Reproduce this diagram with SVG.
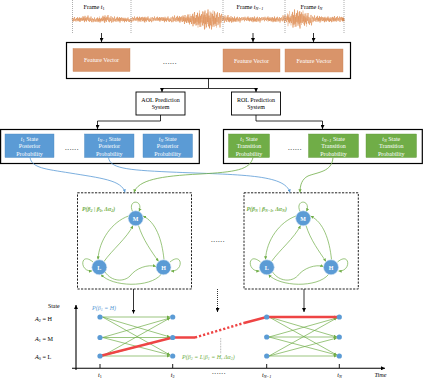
<svg xmlns="http://www.w3.org/2000/svg" width="423" height="382" viewBox="0 0 423 382">
<style>
.t{font-family:"Liberation Serif","Times New Roman",serif;}
.box{stroke:#000;stroke-width:1.2;fill:none;}
.dash{stroke:#222;stroke-width:1;fill:none;stroke-dasharray:2.2,1.3;}
.fv{fill:#D9946A;stroke:#C98358;stroke-width:0.4;}
.bl{fill:#5B9BD5;stroke:#4A86BD;stroke-width:0.4;}
.gr{fill:#70AD47;stroke:#5E9638;stroke-width:0.4;}
.wt{fill:#fff;font-size:6px;text-anchor:middle;}
.dots{font-size:7px;text-anchor:middle;letter-spacing:0.6px;fill:#000;}
.ge{fill:none;stroke:#70AD47;stroke-width:0.7;marker-end:url(#ag);}
.wave{fill:none;stroke:#DF8F55;stroke-width:0.6;}
.node{fill:#5B9BD5;stroke:#cfe0f2;stroke-width:0.6;}
.nl{fill:#fff;font-size:6px;font-weight:bold;text-anchor:middle;}
.pt{fill:#5B9BD5;}
</style>
<defs>
<marker id="ab" viewBox="0 0 10 10" refX="10" refY="5" markerWidth="4" markerHeight="4" markerUnits="userSpaceOnUse" orient="auto"><path d="M0,0 L10,5 L0,10z" fill="#000"/></marker>
<marker id="ag" viewBox="0 0 10 10" refX="10" refY="5" markerWidth="3.2" markerHeight="3.2" markerUnits="userSpaceOnUse" orient="auto"><path d="M0,0 L10,5 L0,10z" fill="#70AD47"/></marker>
<marker id="abl" viewBox="0 0 10 10" refX="10" refY="5" markerWidth="3.2" markerHeight="3.2" markerUnits="userSpaceOnUse" orient="auto"><path d="M0,0 L10,5 L0,10z" fill="#5B9BD5"/></marker>
<path id="wa" vector-effect="non-scaling-stroke" d="M0,0 L.5,-.7 L1,.9 L1.5,-.4 L2,.6 L2.5,-1 L3,.5 L3.5,-.2 L4,.8 L4.5,-.6 L5,.3 L5.5,-.9 L6,.7 L6.5,-.3 L7,.5 L7.5,-.8 L8,1 L8.5,-.5 L9,.4 L9.5,-.7 L10,0"/>
<path id="wb" vector-effect="non-scaling-stroke" d="M0,0 L.5,.5 L1,-.8 L1.5,.3 L2,-.5 L2.5,.9 L3,-.9 L3.5,.4 L4,-.3 L4.5,.7 L5,-.6 L5.5,.2 L6,-1 L6.5,.6 L7,-.4 L7.5,.8 L8,-.2 L8.5,.5 L9,-.7 L9.5,.9 L10,0"/>
</defs>
<rect width="423" height="382" fill="#fff"/>

<!-- waveform -->
<g id="waveform" class="wave">
<use href="#wa" transform="translate(72,19.5) scale(1,2.5)"/>
<use href="#wb" transform="translate(82,19) scale(1,3.5)"/>
<use href="#wa" transform="translate(92,20) scale(1,2.5)"/>
<use href="#wb" transform="translate(102,19) scale(1,4)"/>
<use href="#wa" transform="translate(112,19.5) scale(1,3)"/>
<use href="#wb" transform="translate(122,20) scale(1,2.5)"/>
<use href="#wa" transform="translate(132,19) scale(1,2.5)"/>
<use href="#wb" transform="translate(142,19.5) scale(1,3)"/>
<use href="#wa" transform="translate(152,19) scale(1,2.5)"/>
<use href="#wb" transform="translate(162,19.5) scale(1,3)"/>
<use href="#wa" transform="translate(172,19) scale(1,3.5)"/>
<use href="#wb" transform="translate(182,19.5) scale(1,5)"/>
<use href="#wa" transform="translate(192,19.5) scale(1,7.5)"/>
<use href="#wb" transform="translate(202,20) scale(1,10.5)"/>
<use href="#wa" transform="translate(212,19.5) scale(1,8)"/>
<use href="#wb" transform="translate(222,19) scale(1,4)"/>
<use href="#wa" transform="translate(232,19.5) scale(1,3)"/>
<use href="#wb" transform="translate(242,19) scale(1,2.5)"/>
<use href="#wa" transform="translate(252,19.5) scale(1,3)"/>
<use href="#wb" transform="translate(262,19) scale(1,2.5)"/>
<use href="#wa" transform="translate(272,19.5) scale(1,3)"/>
<use href="#wb" transform="translate(282,19) scale(1,4.5)"/>
<use href="#wa" transform="translate(292,19) scale(1,9.5)"/>
<use href="#wb" transform="translate(302,19.5) scale(1,6.5)"/>
<use href="#wa" transform="translate(312,19) scale(1,3.5)"/>
<use href="#wb" transform="translate(322,19.5) scale(1,3)"/>
<use href="#wa" transform="translate(332,19) scale(1,3)"/>
<use href="#wb" transform="translate(342,19.5) scale(0.2,2)"/>
<g opacity="0.55">
<use href="#wb" transform="translate(77,19.5) scale(1,2)"/>
<use href="#wa" transform="translate(97,19.5) scale(1,3)"/>
<use href="#wb" transform="translate(117,19.5) scale(1,2)"/>
<use href="#wa" transform="translate(137,19.5) scale(1,3)"/>
<use href="#wb" transform="translate(157,19.5) scale(1,2)"/>
<use href="#wb" transform="translate(177,19.5) scale(1,3)"/>
<use href="#wb" transform="translate(187,19.5) scale(1,6)"/>
<use href="#wa" transform="translate(197,19.5) scale(1,9)"/>
<use href="#wb" transform="translate(207,19.5) scale(1,9)"/>
<use href="#wa" transform="translate(227,19.5) scale(1,2.5)"/>
<use href="#wb" transform="translate(247,19.5) scale(1,2.5)"/>
<use href="#wa" transform="translate(267,19.5) scale(1,2.5)"/>
<use href="#wa" transform="translate(287,19) scale(1,8)"/>
<use href="#wb" transform="translate(297,19) scale(1,8.5)"/>
<use href="#wa" transform="translate(317,19.5) scale(1,2.5)"/>
<use href="#wb" transform="translate(327,19.5) scale(1,2.5)"/>
</g>
</g>
<g id="frames" stroke="#777" stroke-width="0.6" stroke-dasharray="1,1">
<line x1="72.5" y1="0" x2="72.5" y2="33"/>
<line x1="131" y1="0" x2="131" y2="33"/>
<line x1="223" y1="0" x2="223" y2="33"/>
<line x1="285" y1="0" x2="285" y2="33"/>
<line x1="344" y1="0" x2="344" y2="33"/>
</g>
<g id="frame-labels" class="t" font-size="6.2" fill="#000">
<text x="83.5" y="8.5">Frame <tspan font-style="italic">t</tspan><tspan font-size="4.2" dy="1.3">1</tspan></text>
<text x="236.5" y="8.5">Frame <tspan font-style="italic">t</tspan><tspan font-size="4.2" dy="1.3" font-style="italic">N−1</tspan></text>
<text x="300.5" y="8.5">Frame <tspan font-style="italic">t</tspan><tspan font-size="4.2" dy="1.3" font-style="italic">N</tspan></text>
</g>

<!-- feature vectors -->
<g id="feature-box">
<rect class="box" x="66.5" y="42.5" width="284" height="36"/>
<g id="fv1"><rect class="fv" x="73" y="48.5" width="57" height="23"/><text class="t wt" x="101.5" y="62.3">Feature Vector</text></g>
<text class="t dots" x="170" y="63.5">......</text>
<g id="fv2"><rect class="fv" x="223" y="49" width="57" height="23"/><text class="t wt" x="251.5" y="62.8">Feature Vector</text></g>
<g id="fv3"><rect class="fv" x="285" y="49" width="58" height="23"/><text class="t wt" x="314" y="62.8">Feature Vector</text></g>
</g>

<g id="aol"><rect x="136" y="92" width="49" height="23" fill="#fff" stroke="#000" stroke-width="0.9"/>
<text class="t" x="160.5" y="101.5" font-size="6" text-anchor="middle">AOL Prediction</text>
<text class="t" x="160.5" y="109.3" font-size="6" text-anchor="middle">System</text></g>
<g id="rol"><rect x="231.5" y="92" width="49" height="23" fill="#fff" stroke="#000" stroke-width="0.9"/>
<text class="t" x="256" y="101.5" font-size="6" text-anchor="middle">ROL Prediction</text>
<text class="t" x="256" y="109.3" font-size="6" text-anchor="middle">System</text></g>

<!-- posterior boxes -->
<g id="posterior-box">
<rect class="box" x="0.6" y="129.5" width="198.7" height="34"/>
<g id="p1"><rect class="bl" x="5" y="134" width="49" height="23.5"/>
<text class="t wt" x="29.5" y="140.5"><tspan font-style="italic">t</tspan><tspan font-size="4.2" dy="1.3">1</tspan><tspan dy="-1.3"> State</tspan></text>
<text class="t wt" x="29.5" y="148">Posterior</text><text class="t wt" x="29.5" y="155.5">Probability</text></g>
<text class="t dots" x="72" y="149.5">......</text>
<g id="p2"><rect class="bl" x="84.5" y="134" width="49.5" height="23.5"/>
<text class="t wt" x="109.3" y="140.5"><tspan font-style="italic">t</tspan><tspan font-size="4.2" dy="1.3" font-style="italic">N−1</tspan><tspan dy="-1.3"> State</tspan></text>
<text class="t wt" x="109.3" y="148">Posterior</text><text class="t wt" x="109.3" y="155.5">Probability</text></g>
<g id="p3"><rect class="bl" x="143" y="134" width="49.5" height="23.5"/>
<text class="t wt" x="167.7" y="140.5"><tspan font-style="italic">t</tspan><tspan font-size="4.2" dy="1.3" font-style="italic">N</tspan><tspan dy="-1.3"> State</tspan></text>
<text class="t wt" x="167.7" y="148">Posterior</text><text class="t wt" x="167.7" y="155.5">Probability</text></g>
</g>

<!-- transition boxes -->
<g id="transition-box">
<rect class="box" x="223.5" y="129.5" width="198.8" height="34"/>
<g id="q1"><rect class="gr" x="228.5" y="134" width="41" height="23.5"/>
<text class="t wt" x="249" y="140.5"><tspan font-style="italic">t</tspan><tspan font-size="4.2" dy="1.3">1</tspan><tspan dy="-1.3"> State</tspan></text>
<text class="t wt" x="249" y="148">Transition</text><text class="t wt" x="249" y="155.5">Probability</text></g>
<text class="t dots" x="295" y="149.5">......</text>
<g id="q2"><rect class="gr" x="308.5" y="134" width="50" height="23.5"/>
<text class="t wt" x="333.5" y="140.5"><tspan font-style="italic">t</tspan><tspan font-size="4.2" dy="1.3" font-style="italic">N−1</tspan><tspan dy="-1.3"> State</tspan></text>
<text class="t wt" x="333.5" y="148">Transition</text><text class="t wt" x="333.5" y="155.5">Probability</text></g>
<g id="q3"><rect class="gr" x="366" y="134" width="50.5" height="23.5"/>
<text class="t wt" x="391.3" y="140.5"><tspan font-style="italic">t</tspan><tspan font-size="4.2" dy="1.3" font-style="italic">N</tspan><tspan dy="-1.3"> State</tspan></text>
<text class="t wt" x="391.3" y="148">Transition</text><text class="t wt" x="391.3" y="155.5">Probability</text></g>
</g>

<!-- HMM boxes -->
<g id="hmm-left">
<rect class="dash" x="77.5" y="192.8" width="114" height="96.2"/>
<text class="t" x="82" y="210.5" font-size="5.8" font-style="italic" font-weight="bold" fill="#70AD47">P(β<tspan font-size="4" dy="1.2">2</tspan><tspan dy="-1.2"> | β</tspan><tspan font-size="4" dy="1.2">1</tspan><tspan dy="-1.2">, Δα</tspan><tspan font-size="4" dy="1.2">2</tspan><tspan dy="-1.2">)</tspan></text>
</g>
<g id="hmm-right">
<rect class="dash" x="244" y="192.8" width="114.3" height="96.2"/>
<text class="t" x="246.5" y="210.5" font-size="5.8" font-style="italic" font-weight="bold" fill="#70AD47">P(β<tspan font-size="4" dy="1.2">N</tspan><tspan dy="-1.2"> | β</tspan><tspan font-size="4" dy="1.2">N−1</tspan><tspan dy="-1.2">, Δα</tspan><tspan font-size="4" dy="1.2">N</tspan><tspan dy="-1.2">)</tspan></text>
</g>
<text class="t dots" x="218" y="241.5">......</text>

<!-- connectors -->
<g id="connectors">
<g stroke="#000" stroke-width="0.8" fill="none" marker-end="url(#ab)">
<line x1="101.5" y1="33" x2="101.5" y2="42"/>
<line x1="253" y1="33" x2="253" y2="42"/>
<line x1="313.5" y1="33" x2="313.5" y2="42"/>
<path d="M208.5,79 V88.5 H162 V92" />
<path d="M208.5,88.5 H256 V92"/>
<path d="M160.5,115 V121 H97.5 V129"/>
<path d="M256,115 V121 H322.5 V129"/>
<line x1="133.5" y1="289" x2="133.5" y2="313.5"/>
<line x1="217.5" y1="289" x2="217.5" y2="312" stroke-dasharray="1,1"/>
<line x1="304" y1="289" x2="304" y2="312"/>
</g>
<g fill="none" stroke-width="0.8">
<path d="M30,157.5 C32,168 45,169 70,173 C100,178 122,180 125,192.5" stroke="#5B9BD5" marker-end="url(#abl)"/>
<path d="M108.5,157.5 C110,168 125,170 170,172 C240,175 285,174 290,192.5" stroke="#5B9BD5" marker-end="url(#abl)"/>
<path d="M253,157.5 C250,170 235,172 200,174 C160,176 138,180 134,192.5" stroke="#70AD47" marker-end="url(#ag)"/>
<path d="M333,157.5 C332,172 318,172 308,176 C302,179 300,185 300,192.5" stroke="#70AD47" marker-end="url(#ag)"/>
</g>
<g id="edges-left">
<path class="ge" d="M132.5,211.5 C127,199 144,199 139,211.5"/>
<path class="ge" d="M93,262 C80,251 79,272 92,271"/>
<path class="ge" d="M170,262 C183,251 184,272 171,271"/>
<path class="ge" d="M128.5,216 C112,222 99,240 98,259.5"/>
<path class="ge" d="M104,261.5 C112,250 127,238 133,225.5"/>
<path class="ge" d="M138.5,225.5 C143,240 152,252 158.5,261.5"/>
<path class="ge" d="M164,259.5 C162,240 156,222 143,216"/>
<path class="ge" d="M105,272 C112,282 124,282 130,276 C136,268 148,264 156,266.5"/>
<path class="ge" d="M161,274.5 C150,288 112,287 101,274.5"/>
</g>
<g id="edges-right" transform="translate(167.5,0)">
<path class="ge" d="M132.5,211.5 C127,199 144,199 139,211.5"/>
<path class="ge" d="M93,262 C80,251 79,272 92,271"/>
<path class="ge" d="M170,262 C183,251 184,272 171,271"/>
<path class="ge" d="M128.5,216 C112,222 99,240 98,259.5"/>
<path class="ge" d="M104,261.5 C112,250 127,238 133,225.5"/>
<path class="ge" d="M138.5,225.5 C143,240 152,252 158.5,261.5"/>
<path class="ge" d="M164,259.5 C162,240 156,222 143,216"/>
<path class="ge" d="M105,272 C112,282 124,282 130,276 C136,268 148,264 156,266.5"/>
<path class="ge" d="M161,274.5 C150,288 112,287 101,274.5"/>
</g>
<g id="trellis-1">
<line class="ge" x1="102.5" y1="317" x2="170" y2="317"/>
<line class="ge" x1="102.5" y1="317" x2="170" y2="337"/>
<line class="ge" x1="102.5" y1="317" x2="170" y2="355"/>
<line class="ge" x1="102.5" y1="337.5" x2="170" y2="318"/>
<line class="ge" x1="102.5" y1="337.5" x2="170" y2="337.5"/>
<line class="ge" x1="102.5" y1="337.5" x2="170" y2="355"/>
<line class="ge" x1="102.5" y1="356" x2="170" y2="318"/>
<line class="ge" x1="102.5" y1="356" x2="170" y2="338"/>
<line class="ge" x1="102.5" y1="356" x2="170" y2="356"/>
</g>
<g id="trellis-2">
<line class="ge" x1="269" y1="317" x2="336.8" y2="317"/>
<line class="ge" x1="269" y1="317" x2="336.8" y2="337"/>
<line class="ge" x1="269" y1="317" x2="336.8" y2="355"/>
<line class="ge" x1="269" y1="337" x2="336.8" y2="318"/>
<line class="ge" x1="269" y1="337" x2="336.8" y2="337"/>
<line class="ge" x1="269" y1="337" x2="336.8" y2="355"/>
<line class="ge" x1="269" y1="356" x2="336.8" y2="318"/>
<line class="ge" x1="269" y1="356" x2="336.8" y2="338"/>
<line class="ge" x1="269" y1="356" x2="336.8" y2="356"/>
</g>
<g id="best-path" fill="none" stroke="#EE4444" stroke-width="2.4" stroke-linecap="butt">
<path d="M100,356 L172.7,337.5 H195"/>
<path d="M195,337.5 L244,323" stroke-dasharray="2.2,2"/>
<path d="M244,323 L266.7,317 H339.3"/>
</g>
<line x1="220.7" y1="338" x2="220.7" y2="354" stroke="#888" stroke-width="0.7" stroke-dasharray="0.8,0.8"/>
</g>

<!-- HMM nodes -->
<g id="node-M1"><circle class="node" cx="135.7" cy="218.3" r="7.5"/><text class="t nl" x="135.7" y="220.5">M</text></g>
<g id="node-L1"><circle class="node" cx="99.3" cy="267.3" r="7.5"/><text class="t nl" x="99.3" y="269.5">L</text></g>
<g id="node-H1"><circle class="node" cx="163.5" cy="267.3" r="7.5"/><text class="t nl" x="163.5" y="269.5">H</text></g>
<g id="node-M2"><circle class="node" cx="303.2" cy="218.3" r="7.5"/><text class="t nl" x="303.2" y="220.5">M</text></g>
<g id="node-L2"><circle class="node" cx="266.8" cy="267.3" r="7.5"/><text class="t nl" x="266.8" y="269.5">L</text></g>
<g id="node-H2"><circle class="node" cx="331" cy="267.3" r="7.5"/><text class="t nl" x="331" y="269.5">H</text></g>

<!-- chart -->
<g id="axes" stroke="#000" stroke-width="1.1" fill="none">
<line x1="76" y1="370" x2="76" y2="305" marker-end="url(#ab)"/>
<line x1="72" y1="368.3" x2="385" y2="368.3" marker-end="url(#ab)"/>
<g stroke-width="0.9">
<line x1="100" y1="364" x2="100" y2="368"/>
<line x1="172.7" y1="364" x2="172.7" y2="368"/>
<line x1="266.7" y1="364" x2="266.7" y2="368"/>
<line x1="339.3" y1="364" x2="339.3" y2="368"/>
</g>
</g>
<g id="trellis-nodes">
<circle class="pt" cx="100" cy="317" r="2.6"/><circle class="pt" cx="100" cy="337.5" r="2.6"/><circle class="pt" cx="100" cy="356" r="2.6"/>
<circle class="pt" cx="172.7" cy="317" r="2.6"/><circle class="pt" cx="172.7" cy="337.5" r="2.6"/><circle class="pt" cx="172.7" cy="356" r="2.6"/>
<circle class="pt" cx="266.7" cy="317" r="2.6"/><circle class="pt" cx="266.7" cy="337" r="2.6"/><circle class="pt" cx="266.7" cy="356" r="2.6"/>
<circle class="pt" cx="339.3" cy="317" r="2.6"/><circle class="pt" cx="339.3" cy="337" r="2.6"/><circle class="pt" cx="339.3" cy="356" r="2.6"/>
</g>
<g id="chart-labels" class="t" font-size="6.2" fill="#000">
<text x="48" y="307.5" font-size="5.8">State</text>
<text x="35" y="321"><tspan font-style="italic">A</tspan><tspan font-size="4.2" dy="1.3">2</tspan><tspan dy="-1.3"> = H</tspan></text>
<text x="35" y="340.5"><tspan font-style="italic">A</tspan><tspan font-size="4.2" dy="1.3">1</tspan><tspan dy="-1.3"> = M</tspan></text>
<text x="35" y="359"><tspan font-style="italic">A</tspan><tspan font-size="4.2" dy="1.3">0</tspan><tspan dy="-1.3"> = L</tspan></text>
<text x="98" y="376.5" font-style="italic">t<tspan font-size="4.2" dy="1.3" font-style="normal">1</tspan></text>
<text x="170.7" y="376.5" font-style="italic">t<tspan font-size="4.2" dy="1.3" font-style="normal">2</tspan></text>
<text x="262" y="376.5" font-style="italic">t<tspan font-size="4.2" dy="1.3">N−1</tspan></text>
<text x="337.3" y="376.5" font-style="italic">t<tspan font-size="4.2" dy="1.3">N</tspan></text>
<text class="dots" x="219" y="374" font-size="5">......</text>
<text x="374.5" y="376.5" font-style="italic">Time</text>
<text x="92" y="309.5" font-style="italic" fill="#5B9BD5" font-size="6">P(β<tspan font-size="4" dy="1.2">1</tspan><tspan dy="-1.2"> = H)</tspan></text>
<text x="182" y="359" font-style="italic" fill="#70AD47" font-size="6">P(β<tspan font-size="4" dy="1.2">2</tspan><tspan dy="-1.2"> = L|β</tspan><tspan font-size="4" dy="1.2">1</tspan><tspan dy="-1.2"> = H, Δα</tspan><tspan font-size="4" dy="1.2">2</tspan><tspan dy="-1.2">)</tspan></text>
</g>
</svg>
